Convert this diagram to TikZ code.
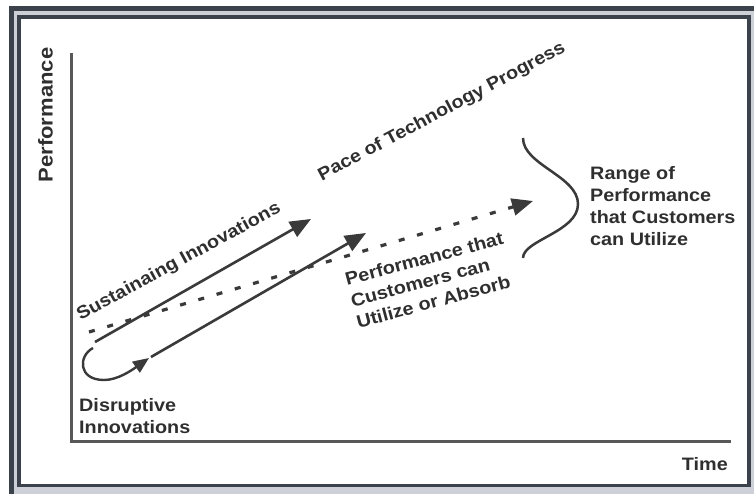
\documentclass[tikz,border=0pt]{standalone}
\usepackage{fontspec}
\usepackage{graphicx}
\newfontfamily\labelfont{Liberation Sans}[FakeStretch=1.1]
\usetikzlibrary{arrows.meta}
\definecolor{ink}{HTML}{2F2F2F}
\definecolor{lineink}{HTML}{3A3A3A}
\definecolor{axisink}{HTML}{585858}
\definecolor{frameink}{HTML}{3B424C}
\definecolor{framegap}{HTML}{CDD1D7}

\begin{document}
\begin{tikzpicture}[x=1pt,y=-1pt,
  lab/.style={font=\labelfont\bfseries\fontsize{18}{22}\selectfont, text=ink, inner sep=0pt},
  trend/.style={draw=lineink, line width=2.6pt, -{Triangle[length=21pt,width=17pt]}},
  absorb/.style={draw=lineink, line width=3.2pt, dash pattern=on 6pt off 13pt,
                 -{Triangle[length=21pt,width=17pt]}},
  loopback/.style={draw=lineink, line width=2.4pt, -{Triangle[length=16pt,width=13pt]}},
  rangecurve/.style={draw=lineink, line width=2.5pt},
  axisline/.style={draw=axisink, line width=3pt},
  ]
\useasboundingbox (0,0) rectangle (754,494);
\clip (0,0) rectangle (754,494);
\fill[white] (0,0) rectangle (754,494);

% double frame around the chart
\fill[framegap] (11.5,9) rectangle (760,500);
\fill[white] (19,17) rectangle (749,485.5);
\draw[frameink, line width=5pt] (11.5,9) rectangle (760,500);
\draw[frameink, line width=3.5pt] (19,17) rectangle (749,485.5);

% axes
\coordinate (ytop) at (71,53);
\coordinate (origin) at (71,441);
\coordinate (xend) at (731,441);
\draw[axisline] (ytop) -- (origin) -- (xend);
\node[lab, font=\labelfont\bfseries\fontsize{20}{24}\selectfont, rotate=90] (ylab) at (45.5,115) {Performance};
\node[lab, anchor=north east] (xlab) at (728,457) {Time};

% trajectories
\coordinate (absA) at (89,332);
\coordinate (absB) at (533,201);
\coordinate (susA) at (95,342);
\coordinate (susB) at (311,219);
\coordinate (disA) at (151,357);
\coordinate (disB) at (366,233);
\coordinate (loopA) at (93,348);
\coordinate (loopB) at (149,358);

\draw[absorb] (absA) -- (absB);
\draw[trend] (susA) -- (susB);
\draw[trend] (disA) -- (disB);
\draw[loopback] (loopA) .. controls (78,356) and (78,380) .. (104,380)
                  .. controls (118,380) and (132,370) .. (loopB);

% range of performance customers can use
\coordinate (bTop) at (523,138);
\coordinate (bMid) at (578,204);
\coordinate (bBot) at (523,258);
\draw[rangecurve] (bTop) .. controls (523,165) and (578,176) .. (bMid)
                  .. controls (578,232) and (523,240) .. (bBot);

% labels
\node[lab, rotate=28] (pace) at (442,112) {Pace of Technology Progress};
\node[lab, rotate=28.5] (sus) at (179,262) {Sustainaing Innovations};
\node[lab, rotate=15, anchor=west, align=left] (absorbtxt) at (351,301)
  {Performance that\\Customers can\\Utilize or Absorb};
\node[lab, anchor=north west, align=left] (range) at (590,166)
  {Range of\\Performance\\that Customers\\can Utilize};
\node[lab, anchor=north west, align=left] (disr) at (79,398)
  {Disruptive\\Innovations};
\end{tikzpicture}
\end{document}
